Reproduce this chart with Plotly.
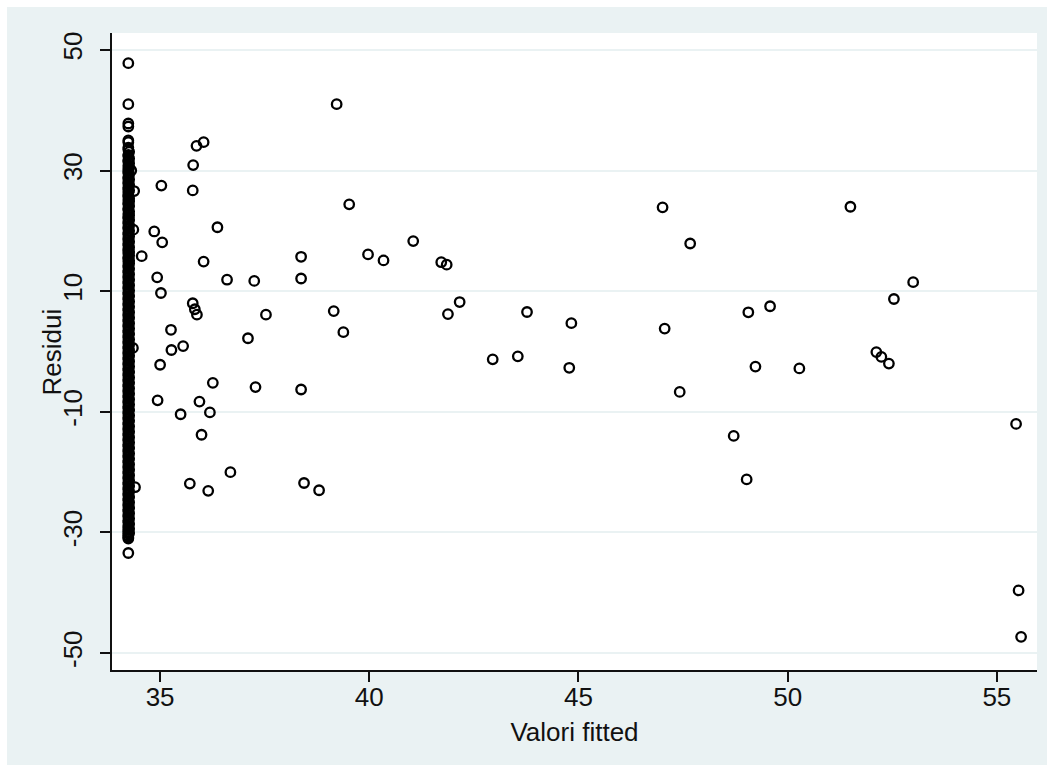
import plotly.graph_objects as go

# Dense column of residuals at the minimum fitted value
strip_x_value = 34.24
strip_y = [47.8, 41.0, 37.8, 37.3, 35.0,
           34.7, 33.8, 33.5, 32.6, 32.4, 31.7, 31.5, 30.8, 30.3, 29.9, 29.6, 28.9, 28.7, 28.1,
           27.8, 27.2, 26.9, 26.4, 25.9, 25.7, 25.1, 24.6, 24.4, 23.7, 23.5, 22.8, 22.3, 22.1,
           21.5, 21.2, 20.6, 20.4, 19.7, 19.4, 18.8, 18.5, 17.9, 17.6, 17.0, 16.7, 16.3, 15.6,
           15.4, 14.9, 14.3, 14.0, 13.4, 13.1, 12.5, 12.2, 11.6, 11.3, 10.7, 10.4, 9.8, 9.5,
           8.9, 8.6, 8.0, 7.7, 7.1, 6.8, 6.2, 5.9, 5.3, 5.0, 4.4, 4.1, 3.5, 3.2, 2.6, 2.3, 1.7,
           1.4, 0.8, 0.5, -0.1, -0.4, -1.0, -1.3, -1.9, -2.2, -2.8, -3.1, -3.7, -4.0, -4.6, -4.9,
           -5.5, -5.8, -6.4, -6.7, -7.3, -7.6, -8.2, -8.5, -9.1, -9.4, -10.0, -10.3, -10.9,
           -11.2, -11.8, -12.1, -12.7, -13.0, -13.6, -13.9, -14.5, -14.8, -15.4, -15.7, -16.3,
           -16.6, -17.2, -17.5, -18.1, -18.4, -19.0, -19.3, -19.9, -20.2, -20.8, -21.1, -21.7,
           -22.0, -22.6, -22.9, -23.5, -23.8, -24.4, -24.7, -25.3, -25.6, -26.2, -26.5, -27.1,
           -27.4, -28.0, -28.3, -28.9, -29.2, -29.6, -29.9, -30.2, -30.5, -30.8, -31.0, -33.4]
# More observations in the same column (tied fitted values, slightly different residuals)
strip_y_more = [33.1, 32.0, 31.2, 30.5, 29.4, 28.5, 27.6, 26.7, 25.4, 24.9, 24.1, 23.2, 22.6,
                21.8, 20.9, 20.0, 19.1, 18.2, 17.3, 16.5, 15.9, 15.1, 14.6, 13.7, 12.8, 11.9,
                11.0, 10.1, 9.2, 8.3, 7.4, 6.5, 5.6, 4.7, 3.8, 2.9, 2.0, 1.1, 0.2, -0.7, -1.6,
                -2.5, -3.4, -4.3, -5.2, -6.1, -7.0, -7.9, -8.8, -9.7, -10.6, -11.5, -12.4,
                -13.3, -14.2, -15.1, -16.0, -16.9, -17.8, -18.7, -19.6, -20.5, -21.4, -22.3,
                -23.2, -24.1, -25.0, -25.9, -26.8, -27.7, -28.6, -29.4, -30.1]
strip_x = [strip_x_value] * len(strip_y) + [strip_x_value + 0.02] * len(strip_y_more)

# Scattered points
fitted = [34.31, 34.38, 34.36, 34.35, 34.40, 34.56, 34.86, 34.93, 34.94, 35.00, 35.02, 35.03,
          35.05, 35.26, 35.27, 35.49, 35.55, 35.71, 35.78, 35.79, 35.78, 35.83, 35.87, 35.88,
          35.94, 35.99, 36.04, 36.04, 36.15, 36.19, 36.26, 36.37, 36.60, 36.68, 37.10, 37.25,
          37.28, 37.53, 38.37, 38.37, 38.37, 38.44, 38.80, 39.15, 39.22, 39.38, 39.52, 39.97,
          40.34, 41.05, 41.72, 41.85, 41.88, 42.16, 42.95, 43.55, 43.77, 44.78, 44.83, 47.01,
          47.06, 47.42, 47.67, 48.71, 49.02, 49.06, 49.23, 49.58, 50.28, 51.50, 52.12, 52.24,
          52.42, 52.54, 53.00, 55.46, 55.52, 55.58]
residui = [30.0, 26.6, 20.2, 0.6, -22.5, 15.8, 19.9, 12.3, -8.1, -2.2, 9.7, 27.5,
           18.1, 3.6, 0.25, -10.4, 0.9, -21.9, 8.0, 30.9, 26.7, 7.0, 34.1, 6.1,
           -8.3, -13.8, 34.7, 14.9, -23.1, -10.1, -5.2, 20.6, 11.9, -20.0, 2.2, 11.7,
           -5.9, 6.1, 15.7, 12.1, -6.3, -21.8, -23.0, 6.7, 41.0, 3.2, 24.4, 16.1,
           15.1, 18.3, 14.8, 14.4, 6.2, 8.2, -1.3, -0.8, 6.55, -2.7, 4.7, 23.9,
           3.8, -6.7, 17.9, -14.0, -21.2, 6.5, -2.5, 7.5, -2.8, 24.0, -0.1, -0.9,
           -2.0, 8.7, 11.5, -12.0, -39.6, -47.3]

x_ticks = [35, 40, 45, 50, 55]
y_ticks = [-50, -30, -10, 10, 30, 50]
x_title = "Valori fitted"
y_title = "Residui"

all_x = strip_x + fitted
all_y = strip_y + strip_y_more + residui

BG = "#EAF2F3"
FONT = "Liberation Sans, Arial, Helvetica, sans-serif"
TXT = "#111111"
FS = 26

fig = go.Figure()
fig.add_trace(go.Scatter(
    x=all_x, y=all_y, mode="markers",
    marker=dict(symbol="circle-open", size=9.5, color="#000000", line=dict(width=2.3, color="#000000")),
    showlegend=False, hoverinfo="x+y",
))

fig.update_layout(
    width=1054, height=772,
    margin=dict(l=112, r=17, t=33, b=102),
    paper_bgcolor="white",
    plot_bgcolor="white",
    font=dict(family=FONT, size=FS, color=TXT),
    shapes=[
        dict(type="rect", xref="paper", yref="paper", x0=-0.1135, x1=1.0108, y0=-0.1491, y1=1.0408,
             fillcolor=BG, line=dict(width=0), layer="below"),
        dict(type="rect", xref="paper", yref="paper", x0=0, x1=1, y0=0, y1=1,
             fillcolor="white", line=dict(width=0), layer="below"),
    ],
    annotations=[
        dict(text=y_title, textangle=-90, xref="paper", yref="paper", x=-0.0649, y=0.5,
             xanchor="center", yanchor="middle", showarrow=False,
             font=dict(size=FS, family=FONT, color=TXT)),
    ],
)

fig.update_xaxes(
    range=[33.85, 55.96], tickvals=x_ticks, ticktext=[str(v) for v in x_ticks],
    showgrid=False, zeroline=False, showline=True, linecolor="#111111", linewidth=1.6,
    ticks="outside", ticklen=10, tickwidth=1.6, tickcolor="#111111",
    ticklabelstandoff=-7,
    tickfont=dict(size=FS, family=FONT, color=TXT),
    title=dict(text=x_title, font=dict(size=FS, family=FONT, color=TXT), standoff=12),
)
fig.update_yaxes(
    range=[-52.8, 52.8], tickvals=y_ticks, ticktext=[str(v) for v in y_ticks],
    tickangle=-90,
    showgrid=True, gridcolor=BG, gridwidth=2, zeroline=False,
    showline=True, linecolor="#111111", linewidth=1.6,
    ticks="outside", ticklen=10, tickwidth=1.6, tickcolor="#111111",
    ticklabelstandoff=8,
    tickfont=dict(size=FS, family=FONT, color=TXT),
)

fig.write_html("out.html")
